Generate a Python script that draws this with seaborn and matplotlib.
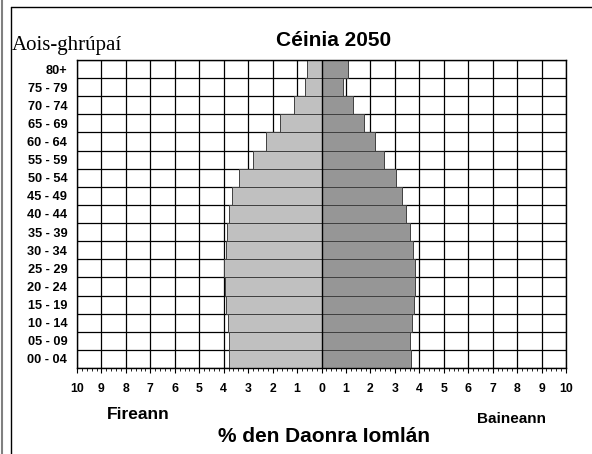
import matplotlib
matplotlib.use("Agg")
import numpy as np
import pandas as pd
import matplotlib.pyplot as plt
from matplotlib.lines import Line2D
from matplotlib.ticker import MultipleLocator, FixedLocator, FuncFormatter
import seaborn as sns

# age groups, top to bottom
age_groups = ["80+", "75 - 79", "70 - 74", "65 - 69", "60 - 64", "55 - 59",
              "50 - 54", "45 - 49", "40 - 44", "35 - 39", "30 - 34", "25 - 29",
              "20 - 24", "15 - 19", "10 - 14", "05 - 09", "00 - 04"]
# % of total population
fireann = [0.61, 0.68, 1.12, 1.70, 2.29, 2.82, 3.36, 3.65, 3.77, 3.85,
           3.89, 3.99, 3.93, 3.89, 3.81, 3.77, 3.77]
baineann = [1.09, 0.88, 1.29, 1.74, 2.20, 2.57, 3.06, 3.31, 3.44, 3.60,
            3.74, 3.82, 3.82, 3.78, 3.69, 3.62, 3.66]

df = pd.DataFrame({"aois": age_groups,
                   "fireann": [-v for v in fireann],
                   "baineann": baineann})

sns.set_theme(style="white")
plt.rcParams["font.family"] = ["Liberation Sans", "DejaVu Sans"]

W, H = 592, 454
fig = plt.figure(figsize=(W / 100, H / 100), dpi=100)
ax = fig.add_axes([77 / W, 1 - 368 / H, (566 - 77) / W, (368 - 60) / H])

bar_kw = dict(orient="h", width=1.0, saturation=1, edgecolor="#404040",
              linewidth=0.7, order=age_groups, zorder=2)
sns.barplot(data=df, x="fireann", y="aois", color="#c0c0c0", ax=ax, **bar_kw)
sns.barplot(data=df, x="baineann", y="aois", color="#969696", ax=ax, **bar_kw)
ax.axvline(0, color="black", lw=1, zorder=3)

ax.set_xlim(-10, 10)
ax.set_ylim(len(age_groups) - 0.5, -0.5)
ax.xaxis.set_major_locator(MultipleLocator(1))
ax.xaxis.set_minor_locator(MultipleLocator(0.2))
ax.xaxis.set_major_formatter(FuncFormatter(lambda v, p: f"{abs(v):.0f}"))
ax.yaxis.set_minor_locator(FixedLocator(np.arange(-0.5, len(age_groups), 1)))

ax.set_axisbelow(True)
ax.grid(axis="x", which="major", color="black", lw=0.9)
ax.grid(axis="y", which="minor", color="black", lw=0.9)
ax.grid(axis="y", which="major", visible=False)

ax.tick_params(axis="x", which="major", bottom=True, length=3.5, width=0.8,
               color="black", pad=7, labelsize=8.8)
ax.tick_params(axis="x", which="minor", bottom=True, length=2, width=0.6,
               color="black")
ax.tick_params(axis="y", which="both", length=0, pad=7, labelsize=9.2)
for lab in ax.get_xticklabels() + ax.get_yticklabels():
    lab.set_fontweight("bold")
    lab.set_color("black")
ax.set_xlabel("")
ax.set_ylabel("")
for s in ax.spines.values():
    s.set_color("black")
    s.set_linewidth(1)

def fy(y):
    return 1 - y / H

fig.text(334 / W, fy(40), "Céinia 2050", ha="center", va="center",
         fontsize=15, fontweight="bold", color="black")
fig.text(12 / W, fy(50), "Aois-ghrúpaí", ha="left", va="baseline",
         fontsize=15, color="black", family=["Liberation Serif", "DejaVu Serif"])
fig.text(138 / W, fy(414.5), "Fireann", ha="center", va="center",
         fontsize=12.5, fontweight="bold", color="black")
fig.text(512 / W, fy(419), "Baineann", ha="center", va="center",
         fontsize=11, fontweight="bold", color="black")
fig.text(324 / W, fy(437), "% den Daonra Iomlán", ha="center", va="center",
         fontsize=15, fontweight="bold", color="black")

# outer frame
fig.add_artist(Line2D([10.5 / W, 10.5 / W], [0, fy(7)], color="black", lw=1))
fig.add_artist(Line2D([10.5 / W, 1], [fy(7), fy(7)], color="black", lw=1))
fig.add_artist(Line2D([1.5 / W, 1.5 / W], [0, 1], color="#808080", lw=1.5))

fig.savefig("out.png", dpi=100)
